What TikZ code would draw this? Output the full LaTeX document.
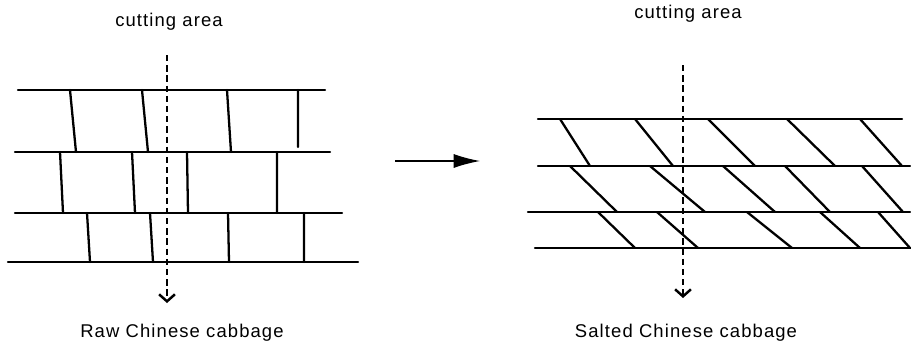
\documentclass[tikz,border=0pt]{standalone}
\usepackage{fontspec}
\setmainfont{Liberation Sans}
\usepackage{tikz}
\usetikzlibrary{positioning}
\usetikzlibrary{arrows.meta}

\begin{document}
\begin{tikzpicture}[
    x=0.02cm, y=-0.02cm,
    leaf/.style={line width=1.3pt, line cap=round},
    cut/.style={line width=1.4pt, dash pattern=on 3.6pt off 2.2pt, -{Straight Barb[length=4pt,width=9pt]}},
    arrow/.style={line width=0.7pt, -{Latex[length=15pt,width=8pt]}},
    label/.style={font=\fontsize{10.5}{12}\selectfont\addfontfeature{LetterSpace=6}}
]
    \useasboundingbox (0,0) rectangle (911,345);

    % Left: raw cabbage layers
    \draw[leaf] (18,90) -- (325,90) (15,152) -- (330,152)
                (15,213) -- (342,213) (8,262) -- (358,262);
    \draw[leaf] (70,90) -- (76,152) (142,90) -- (148,152)
                (227,90) -- (231,152) (298,90) -- (298,147);
    \draw[leaf] (60,152) -- (63,213) (132,152) -- (135,213)
                (187,152) -- (188,213) (277,152) -- (277,213);
    \draw[leaf] (87,213) -- (90,262) (150,213) -- (153,262)
                (228,213) -- (229,262) (304,213) -- (304,262);

    % Right: salted cabbage layers
    \draw[leaf] (538,119) -- (902,119) (538,166) -- (910,166)
                (528,212) -- (910,212) (535,248) -- (910,248);
    \draw[leaf] (560,119) -- (590,166) (635,119) -- (673,166) (708,119) -- (755,166)
                (787,119) -- (835,166) (860,119) -- (902,166);
    \draw[leaf] (570,166) -- (617,212) (650,166) -- (705,212) (723,166) -- (775,212)
                (785,166) -- (830,212) (862,166) -- (903,212);
    \draw[leaf] (598,212) -- (635,248) (657,212) -- (698,248) (747,212) -- (792,248)
                (820,212) -- (860,248) (878,212) -- (910,248);

    % Cutting lines
    \coordinate (rawtop) at (167,55);
    \coordinate (rawbot) at (167,303);
    \coordinate (salttop) at (683,65);
    \coordinate (saltbot) at (683,298);
    \draw[cut] (rawtop) -- (rawbot);
    \draw[cut] (salttop) -- (saltbot);

    % Salting arrow
    \coordinate (from) at (395,161);
    \coordinate (to) at (480,161);
    \draw[arrow] (from) -- (to);

    % Labels
    \node[label] (rawcut) at (169,22) {cutting area};
    \node[label] (saltcut) at (688,14) {cutting area};
    \node[label] (raw) at (182,333) {Raw Chinese cabbage};
    \node[label] (salted) at (686,333) {Salted Chinese cabbage};
\end{tikzpicture}
\end{document}
